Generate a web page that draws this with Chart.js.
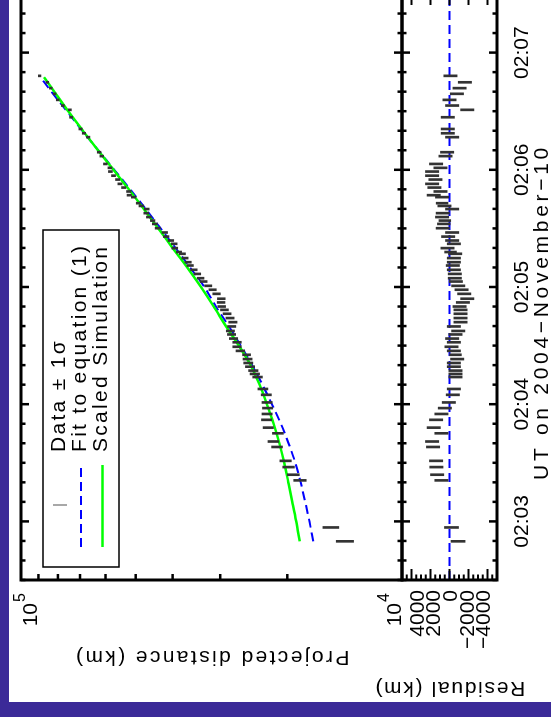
<!DOCTYPE html>
<html lang="en">
<head>
<meta charset="UTF-8">
<title>Projected distance</title>
<script src="https://cdn.jsdelivr.net/npm/chart.js"></script>
<style>
  html, body { margin: 0; padding: 0; width: 551px; height: 717px; overflow: hidden; background: #3b2a98; }
  #sheet { position: absolute; left: 9px; top: 0; width: 542px; height: 702px; background: #fff; }
  /* the plot is laid out landscape and turned a quarter turn */
  #plot { position: absolute; left: 0; top: 0; width: 740px; height: 551px;
          transform-origin: 0 0; transform: translate(0px, 717px) rotate(-90deg); }
  #plot canvas { position: absolute; left: 0; top: 0; }
</style>
</head>
<body>
<div id="sheet"></div>
<div id="plot">
  <canvas id="mainChart" width="740" height="551"></canvas>
  <canvas id="residChart" width="740" height="551"></canvas>
</div>

<script>
// time axis: seconds after 02:03:00 UT
const tRange = [-30, 270];
const timeTicks = [0, 60, 120, 180, 240];
const timeLabels = ['02:03', '02:04', '02:05', '02:06', '02:07'];
const timeTitle = 'UT on 2004\u2212November\u221210';

const distRange = [1e4, 1e5];
const distMinor = [2e4, 3e4, 4e4, 5e4, 6e4, 7e4, 8e4, 9e4];
const distDecades = [1e4, 1e5];
const distExp = ['4', '5'];

const residRange = [-5000, 5000];
const residTicks = [4000, 2000, 0, -2000, -4000];
const residLabels = ['4000', '2000', '0', '\u22122000', '\u22124000'];

// measurements
const obsTime = [-10.2, -3.1, 21.0, 23.9, 27.8, 31.0, 38.1, 40.9, 45.1, 48.0,
  52.0, 55.0, 58.0, 60.9, 64.8, 67.8, 73.9, 75.5, 77.2, 79.2,
  81.1, 83.1, 85.3, 87.3, 89.4, 91.7, 93.6, 95.7, 97.5, 99.8,
  102.0, 104.1, 106.3, 108.3, 110.0, 112.1, 114.0, 116.5, 118.6, 120.6,
  122.8, 124.5, 126.7, 128.8, 131.0, 132.7, 134.8, 137.0, 137.9, 139.9,
  142.1, 143.8, 145.8, 147.9, 150.1, 152.3, 154.0, 155.8, 157.8, 159.9,
  161.5, 162.9, 166.0, 167.0, 168.9, 170.9, 172.8, 175.0, 177.0, 179.1,
  181.0, 183.0, 187.0, 189.0, 196.7, 198.7, 200.9, 206.9, 210.7, 212.9,
  215.8, 218.9, 221.8, 224.8, 228.1];
const obsDist = [14140, 15390, 18540, 19300, 19860, 20220, 21290, 21780, 21180, 22450,
  22680, 22610, 22540, 22610, 22720, 23190, 23950, 24350, 24570, 25060,
  25330, 25440, 25590, 26570, 27110, 27110, 27690, 28020, 28220, 28000,
  27800, 28280, 28790, 29250, 29740, 29850, 29810, 30680, 31420, 32260,
  33170, 33790, 34450, 35180, 35980, 36430, 37120, 37710, 38500, 39480,
  39620, 40430, 41590, 41940, 43750, 44540, 45130, 46160, 46910, 46780,
  48320, 49210, 50640, 51980, 52140, 53760, 54990, 55780, 57170, 58260,
  58430, 60050, 61380, 62370, 66640, 68360, 69790, 73870, 74450, 77670,
  80090, 81610, 83530, 85280, 89350];
const obsSigma = [740, 740, 700, 700, 700, 700, 700, 700, 700, 700,
  700, 700, 700, 700, 700, 700, 700, 700, 700, 700,
  700, 700, 620, 700, 700, 700, 700, 700, 700, 700,
  700, 700, 700, 700, 700, 700, 700, 700, 700, 700,
  700, 700, 700, 700, 700, 700, 700, 700, 620, 700,
  700, 700, 700, 700, 700, 670, 620, 700, 700, 700,
  700, 620, 700, 700, 700, 700, 700, 700, 700, 700,
  700, 700, 700, 700, 700, 700, 700, 700, 700, 700,
  700, 700, 700, 700, 700];
const obsResid = [-900, -210, 850, 1300, 1380, 1410, 1730, 1830, 850, 1660,
  1410, 850, 490, 70, -350, -460, -630, -630, -630, -460,
  -460, -810, -630, -460, -210, -460, -280, -630, -920, -460,
  -1160, -1160, -1160, -1160, -1060, -1410, -1870, -1550, -1270, -920,
  -670, -560, -560, -460, -350, -460, -460, -600, -110, 210,
  -460, -280, 140, -280, 710, 600, 490, 780, 710, -280,
  530, 780, 780, 1660, 950, 1590, 1830, 1480, 1830, 1830,
  950, 1410, 420, 250, -280, 180, 180, 180, -1870, -280,
  0, -780, -1060, -1620, -100];

// fit to equation (1)
const fitTime = [-10.2, 0, 10, 20, 30, 40, 50, 60, 70, 80, 90, 100, 110, 120,
  130, 140, 150, 160, 170, 180, 190, 200, 210, 220, 227];
const fitDist = [17100, 17500, 17950, 18450, 19050, 19850, 20800, 21950, 23250, 24750,
  26500, 28500, 30800, 33000, 36000, 39300, 43000, 47100, 51700, 56900,
  62700, 69000, 75800, 83200, 88600];

// scaled simulation
const simTime = [-10.2, 0, 10, 20, 30, 40, 50, 60, 70, 80, 90, 100, 110, 120,
  130, 140, 150, 160, 170, 180, 190, 200, 210, 220, 227.4];
const simDist = [18560, 18950, 19400, 19880, 20380, 20980, 21720, 22620, 23650, 24950,
  26800, 29000, 31200, 33700, 36600, 40000, 43600, 47600, 52100, 57200,
  62800, 68800, 75200, 81800, 87000];

// layout of the landscape sheet
const W = 740, H = 551;
const X0 = 137, X1 = 723;               // time axis ends
const Y0 = 21, Y1 = 402, Y2 = 497;      // main top, panel split, residual bottom
const FONT = '"Liberation Sans", Arial, sans-serif';
const INK = '#000';

function seg(ctx, x1, y1, x2, y2) {
  ctx.beginPath(); ctx.moveTo(x1, y1); ctx.lineTo(x2, y2); ctx.stroke();
}

function timeTickMarks(ctx, xs, top, bottom) {
  ctx.lineWidth = 2.5;
  for (let t = tRange[0]; t <= tRange[1]; t += 10) {
    const x = xs.getPixelForValue(t);
    const len = timeTicks.includes(t) ? 8 : 4.5;
    seg(ctx, x, top, x, top + len);
    seg(ctx, x, bottom, x, bottom - len);
  }
}

function upText(ctx, str, x, y, spacing) {
  ctx.save();
  ctx.translate(x, y);
  ctx.rotate(-Math.PI / 2);
  ctx.textAlign = 'center';
  ctx.letterSpacing = spacing;
  ctx.fillText(str, 0, 0);
  ctx.restore();
}

const mainDecor = {
  id: 'mainDecor',
  afterDraw(chart) {
    const ctx = chart.ctx, xs = chart.scales.x, ys = chart.scales.y;
    const a = chart.chartArea;
    ctx.save();
    ctx.strokeStyle = INK; ctx.fillStyle = INK;

    timeTickMarks(ctx, xs, a.top, a.bottom);
    ctx.lineWidth = 2.5;
    distMinor.forEach(v => {
      const y = ys.getPixelForValue(v);
      seg(ctx, a.left, y, a.left + 6, y);
      seg(ctx, a.right, y, a.right - 6, y);
    });
    ctx.lineWidth = 3;
    ctx.strokeRect(a.left, a.top, a.right - a.left, a.bottom - a.top);

    // decade labels, 10 with a raised exponent
    ctx.textBaseline = 'alphabetic';
    distDecades.forEach((v, i) => {
      const y = ys.getPixelForValue(v);
      const base = i === 0 ? y - 1 : y + 16;
      ctx.font = '21px ' + FONT; ctx.textAlign = 'right';
      ctx.fillText('10', 114, base);
      ctx.font = '16px ' + FONT; ctx.textAlign = 'left';
      ctx.fillText(distExp[i], 115, base - 12);
    });

    ctx.font = '21px ' + FONT;
    upText(ctx, 'Projected distance (km)', 66, (a.top + a.bottom) / 2, '2.4px');

    // legend
    ctx.lineWidth = 1.5;
    ctx.strokeRect(150, 43, 337, 76);
    ctx.strokeStyle = '#a8a8a8'; ctx.lineWidth = 2;
    seg(ctx, 212, 53, 212, 67);
    ctx.strokeStyle = '#0000ff'; ctx.setLineDash([9, 5]);
    seg(ctx, 170, 81, 250, 81);
    ctx.setLineDash([]);
    ctx.strokeStyle = '#00ff00'; ctx.lineWidth = 2.5;
    seg(ctx, 170, 102.5, 252, 102.5);
    ctx.textAlign = 'left'; ctx.letterSpacing = '2.3px';
    ctx.fillText('Data \u00b1 1\u03c3', 265, 65);
    ctx.fillText('Fit to equation (1)', 265, 86);
    ctx.fillText('Scaled Simulation', 265, 107);
    ctx.letterSpacing = '0px';
    ctx.restore();
  }
};

const residDecor = {
  id: 'residDecor',
  afterDraw(chart) {
    const ctx = chart.ctx, xs = chart.scales.x, ys = chart.scales.y;
    const a = chart.chartArea;
    const mid = (a.top + a.bottom) / 2;
    ctx.save();
    ctx.strokeStyle = INK; ctx.fillStyle = INK;

    timeTickMarks(ctx, xs, a.top, a.bottom);
    ctx.lineWidth = 2;
    for (let v = residRange[0] + 500; v < residRange[1]; v += 500) {
      const y = ys.getPixelForValue(v);
      const len = residTicks.includes(v) ? 11 : 5.5;
      seg(ctx, a.left, y, a.left + len, y);
      seg(ctx, a.right, y, a.right - len, y);
    }
    ctx.lineWidth = 3;
    ctx.strokeRect(a.left, a.top, a.right - a.left, a.bottom - a.top);

    // labels are squeezed a little toward the panel middle so they don't collide
    ctx.font = '21px ' + FONT;
    ctx.textBaseline = 'alphabetic';
    ctx.textAlign = 'right';
    residTicks.forEach((v, i) => {
      const y = mid + (ys.getPixelForValue(v) - mid) * 0.88;
      ctx.fillText(residLabels[i], 127, y + 7.5);
    });

    ctx.textAlign = 'center';
    timeTicks.forEach((t, i) => {
      ctx.fillText(timeLabels[i], xs.getPixelForValue(t), 528);
    });
    // axis title, widely spaced and set a little toward the early end
    ctx.letterSpacing = '3.7px';
    ctx.fillText(timeTitle, (a.left + a.right) / 2 - 25, 548);
    ctx.letterSpacing = '0px';

    upText(ctx, 'Residual (km)', 35, mid, '1.7px');
    ctx.restore();
  }
};

const common = {
  responsive: false,
  animation: false,
  devicePixelRatio: 1,
  events: [],
  plugins: { legend: { display: false }, tooltip: { enabled: false } }
};

new Chart(document.getElementById('mainChart'), {
  type: 'bar',
  data: {
    datasets: [
      {
        type: 'bar',
        data: obsTime.map((t, i) => ({ x: t, y: [obsDist[i] - obsSigma[i], obsDist[i] + obsSigma[i]] })),
        backgroundColor: '#333',
        barThickness: 2,
        order: 0
      },
      {
        type: 'line',
        data: simTime.map((t, i) => ({ x: t, y: simDist[i] })),
        borderColor: '#00ff00',
        borderWidth: 2.5,
        pointRadius: 0,
        cubicInterpolationMode: 'monotone',
        order: 1
      },
      {
        type: 'line',
        data: fitTime.map((t, i) => ({ x: t, y: fitDist[i] })),
        borderColor: '#0000ff',
        borderWidth: 2,
        borderDash: [9, 5],
        pointRadius: 0,
        cubicInterpolationMode: 'monotone',
        order: 2
      }
    ]
  },
  options: Object.assign({}, common, {
    layout: { padding: { left: X0, right: W - X1, top: Y0, bottom: H - Y1 } },
    scales: {
      x: { type: 'linear', min: tRange[0], max: tRange[1], offset: false, display: false },
      y: { type: 'logarithmic', min: distRange[0], max: distRange[1], display: false }
    }
  }),
  plugins: [mainDecor]
});

new Chart(document.getElementById('residChart'), {
  type: 'bar',
  data: {
    datasets: [
      {
        type: 'bar',
        data: obsTime.map((t, i) => ({ x: t, y: [obsResid[i] - obsSigma[i], obsResid[i] + obsSigma[i]] })),
        backgroundColor: '#333',
        barThickness: 2,
        order: 0
      },
      {
        type: 'line',
        data: tRange.map(t => ({ x: t, y: 0 })),
        borderColor: '#0000ff',
        borderWidth: 2,
        borderDash: [9, 5],
        pointRadius: 0,
        order: 1
      }
    ]
  },
  options: Object.assign({}, common, {
    layout: { padding: { left: X0, right: W - X1, top: Y1, bottom: H - Y2 } },
    scales: {
      x: { type: 'linear', min: tRange[0], max: tRange[1], offset: false, display: false },
      y: { type: 'linear', min: residRange[0], max: residRange[1], display: false }
    }
  }),
  plugins: [residDecor]
});
</script>
</body>
</html>
